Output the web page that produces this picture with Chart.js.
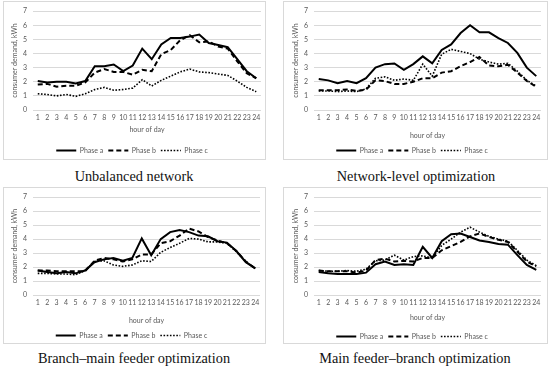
<!DOCTYPE html>
<html lang="en">
<head>
<meta charset="UTF-8">
<title>Consumer demand per phase</title>
<script src="https://cdn.jsdelivr.net/npm/chart.js@4.4.1/dist/chart.umd.min.js"></script>
<style>
    body { margin: 0; width: 550px; height: 369px; background: #fff; position: relative; overflow: hidden; }
    .box { position: absolute; box-sizing: border-box; border: 1px solid #d9d9d9; }
    canvas { position: absolute; }
    .caption { position: absolute; width: 280px; text-align: center; font-family: "Liberation Serif", serif; font-size: 14.3px; color: #111; line-height: 16px; }
</style>
</head>
<body>
    <div class="box" style="left:3px;top:1px;width:263px;height:159px"></div>
    <div class="box" style="left:283px;top:1px;width:265px;height:159px"></div>
    <div class="box" style="left:3px;top:187px;width:263px;height:157px"></div>
    <div class="box" style="left:283px;top:187px;width:265px;height:157px"></div>

    <canvas id="chartUnbalanced" width="263" height="163" style="left:3px;top:1px"></canvas>
    <canvas id="chartNetwork" width="265" height="163" style="left:283px;top:1px"></canvas>
    <canvas id="chartBranchMain" width="263" height="162" style="left:3px;top:187px"></canvas>
    <canvas id="chartMainBranch" width="265" height="163" style="left:283px;top:187px"></canvas>

    <div class="caption" style="left:-6px;top:168px">Unbalanced network</div>
    <div class="caption" style="left:276px;top:168px">Network-level optimization</div>
    <div class="caption" style="left:-6px;top:350px">Branch–main feeder optimization</div>
    <div class="caption" style="left:275px;top:350px">Main feeder–branch optimization</div>

<script>
    const hours = ['1', '2', '3', '4', '5', '6', '7', '8', '9', '10', '11', '12',
        '13', '14', '15', '16', '17', '18', '19', '20', '21', '22', '23', '24'];
    const phaseNames = ['Phase a', 'Phase b', 'Phase c'];

    // Unbalanced network
    const unbalancedA = [2.05, 1.95, 2.0, 2.0, 1.88, 2.05, 3.1, 3.1, 3.22, 2.75, 3.15, 4.35,
        3.6, 4.65, 5.1, 5.1, 5.2, 5.35, 4.75, 4.6, 4.45, 3.6, 2.75, 2.25];
    const unbalancedB = [1.8, 1.85, 1.65, 1.72, 1.72, 1.95, 2.65, 2.9, 2.7, 2.7, 2.5, 2.85,
        2.75, 3.95, 4.25, 4.95, 5.3, 4.8, 4.85, 4.5, 4.35, 3.45, 2.6, 2.25];
    const unbalancedC = [1.15, 1.1, 1.0, 1.1, 0.97, 1.15, 1.45, 1.6, 1.4, 1.45, 1.55, 2.15,
        1.7, 2.1, 2.4, 2.7, 2.9, 2.7, 2.65, 2.55, 2.45, 2.05, 1.6, 1.3];

    // Network-level optimization
    const networkA = [2.2, 2.1, 1.9, 2.05, 1.9, 2.25, 3.0, 3.25, 3.3, 2.85, 3.25, 3.8,
        3.3, 4.25, 4.65, 5.45, 6.0, 5.5, 5.5, 5.1, 4.75, 4.05, 3.0, 2.4];
    const networkB = [1.4, 1.4, 1.4, 1.45, 1.35, 1.45, 2.1, 2.05, 1.85, 1.85, 2.0, 2.25,
        2.25, 2.65, 2.75, 3.1, 3.4, 3.75, 3.15, 3.1, 3.2, 2.65, 2.05, 1.65];
    const networkC = [1.35, 1.35, 1.3, 1.35, 1.3, 1.5, 2.25, 2.35, 2.1, 2.2, 2.1, 3.25,
        2.4, 3.95, 4.3, 4.15, 4.0, 3.6, 3.4, 3.25, 3.3, 2.75, 2.1, 1.7];

    // Branch-main feeder optimization
    const branchMainA = [1.75, 1.65, 1.55, 1.65, 1.55, 1.75, 2.35, 2.55, 2.65, 2.45, 2.65, 4.05,
        2.85, 4.0, 4.5, 4.65, 4.5, 4.25, 4.2, 3.85, 3.75, 3.15, 2.35, 1.9];
    const branchMainB = [1.75, 1.75, 1.7, 1.7, 1.7, 1.7, 2.45, 2.65, 2.55, 2.4, 2.55, 2.9,
        2.9, 3.7, 3.85, 4.25, 4.75, 4.55, 4.15, 3.9, 3.7, 3.15, 2.4, 1.9];
    const branchMainC = [1.55, 1.55, 1.5, 1.5, 1.45, 1.75, 2.4, 2.45, 2.15, 2.05, 2.15, 2.45,
        2.4, 3.05, 3.4, 3.7, 4.05, 4.0, 3.8, 3.8, 3.7, 3.1, 2.4, 1.9];

    // Main feeder-branch optimization
    const mainBranchA = [1.65, 1.55, 1.5, 1.5, 1.5, 1.6, 2.2, 2.4, 2.15, 2.2, 2.15, 3.45,
        2.65, 3.85, 4.35, 4.4, 4.15, 3.9, 3.8, 3.65, 3.6, 2.85, 2.15, 1.8];
    const mainBranchB = [1.75, 1.7, 1.7, 1.7, 1.6, 1.75, 2.5, 2.6, 2.4, 2.45, 2.4, 2.65,
        2.65, 3.2, 3.5, 3.8, 4.2, 4.4, 4.15, 3.95, 3.8, 3.1, 2.4, 2.05];
    const mainBranchC = [1.75, 1.7, 1.7, 1.75, 1.7, 1.85, 2.45, 2.5, 2.85, 2.5, 2.75, 2.8,
        2.65, 3.55, 4.0, 4.5, 4.85, 4.5, 4.2, 4.0, 3.85, 3.2, 2.5, 2.1];

    const textColor = '#595959';
    const gridColor = '#d9d9d9';
    const fontFamily = 'Lato, "Open Sans", sans-serif';

    function makeChart(id, seriesA, seriesB, seriesC, lay) {
        const ctx = document.getElementById(id).getContext('2d');
        const data = {
            labels: hours,
            datasets: [
                { label: phaseNames[0], data: seriesA, borderColor: '#000', borderWidth: 2, borderDash: [] },
                { label: phaseNames[1], data: seriesB, borderColor: '#000', borderWidth: 2, borderDash: [5, 3] },
                { label: phaseNames[2], data: seriesC, borderColor: '#000', borderWidth: 1.6, borderDash: [1.6, 1.6] }
            ]
        };
        const options = {
            responsive: false,
            animation: false,
            layout: { padding: { left: 0, top: lay.top, right: lay.right, bottom: 0 } },
            elements: {
                point: { radius: 0, hoverRadius: 0 },
                line: { tension: 0, fill: false }
            },
            plugins: {
                tooltip: { enabled: false },
                legend: {
                    position: 'bottom',
                    labels: {
                        color: textColor,
                        font: { family: fontFamily, size: 7 },
                        usePointStyle: true,
                        pointStyleWidth: 20,
                        padding: 5,
                        generateLabels: chart => chart.data.datasets.map((ds, i) => ({
                            text: ds.label,
                            fillStyle: 'rgba(0,0,0,0)',
                            strokeStyle: ds.borderColor,
                            lineWidth: ds.borderWidth,
                            lineDash: ds.borderDash,
                            pointStyle: 'line',
                            fontColor: textColor,
                            hidden: false,
                            datasetIndex: i
                        }))
                    }
                }
            },
            scales: {
                x: {
                    offset: true,
                    grid: { display: false, drawTicks: false },
                    border: { display: false },
                    ticks: {
                        color: textColor, font: { family: fontFamily, size: 7 },
                        autoSkip: false, maxRotation: 0, padding: 4
                    },
                    title: {
                        display: true, text: 'hour of day', color: textColor,
                        font: { family: fontFamily, size: 7 },
                        padding: { top: 0, bottom: lay.xTitlePad }
                    },
                    afterFit: scale => { scale.height = lay.xh; }
                },
                y: {
                    min: 0,
                    max: 7,
                    grid: { color: gridColor, lineWidth: 1, drawTicks: false },
                    border: { display: false },
                    ticks: {
                        stepSize: 1, color: textColor, font: { family: fontFamily, size: 7 }, padding: 6
                    },
                    title: {
                        display: true, text: 'consumer demand, kWh', color: textColor,
                        font: { family: fontFamily, size: 7 },
                        padding: { top: lay.yTitlePad, bottom: 0 }
                    },
                    afterFit: scale => { scale.width = lay.yw; }
                }
            }
        };
        return new Chart(ctx, { type: 'line', data: data, options: options });
    }

    makeChart('chartUnbalanced', unbalancedA, unbalancedB, unbalancedC,
        { top: 9, right: 5, yw: 30, xh: 32, xTitlePad: 7.8, yTitlePad: 7.8 });
    makeChart('chartNetwork', networkA, networkB, networkC,
        { top: 9, right: 7, yw: 31, xh: 32, xTitlePad: 1.8, yTitlePad: 8.8 });
    makeChart('chartBranchMain', branchMainA, branchMainB, branchMainC,
        { top: 7.5, right: 6, yw: 30, xh: 32, xTitlePad: 1.8, yTitlePad: 7.8 });
    makeChart('chartMainBranch', mainBranchA, mainBranchB, mainBranchC,
        { top: 7.5, right: 7, yw: 31, xh: 33, xTitlePad: 5.8, yTitlePad: 8.8 });
</script>
</body>
</html>
